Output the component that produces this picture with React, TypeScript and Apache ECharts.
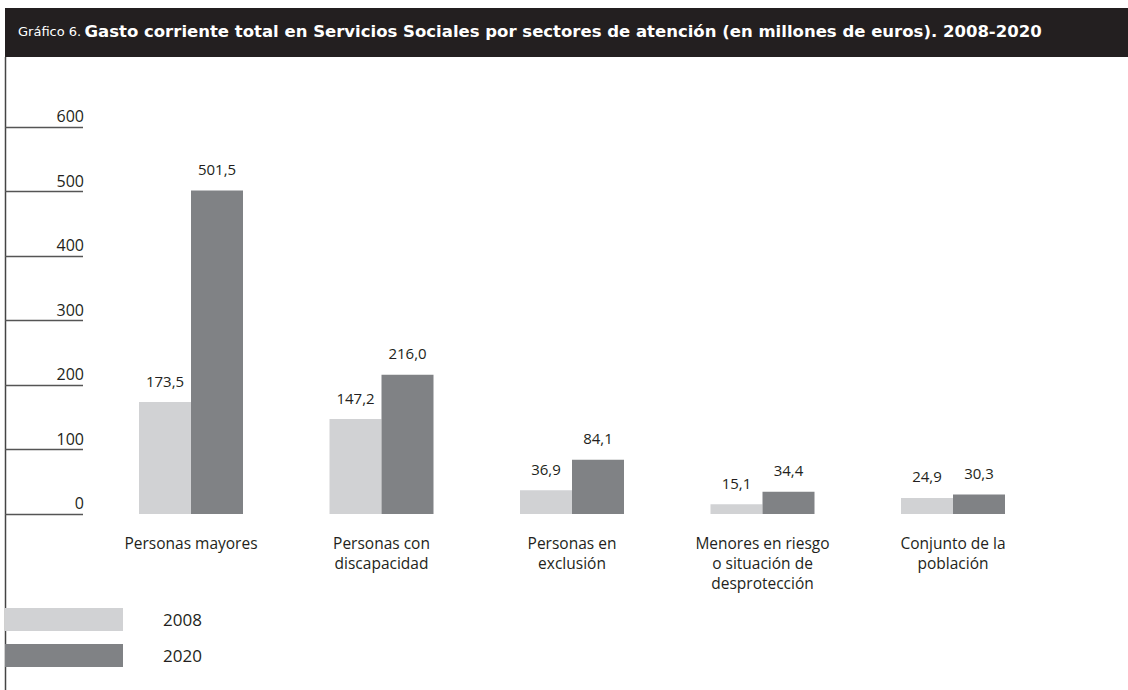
import React, { useEffect, useRef } from "react";
import * as echarts from "echarts";

const categories = [
  "Personas mayores",
  "Personas con\ndiscapacidad",
  "Personas en\nexclusión",
  "Menores en riesgo\no situación de\ndesprotección",
  "Conjunto de la\npoblación",
];
const values2008 = [173.5, 147.2, 36.9, 15.1, 24.9];
const values2020 = [501.5, 216.0, 84.1, 34.4, 30.3];
const seriesNames = ["2008", "2020"];
const yTicks = [0, 100, 200, 300, 400, 500, 600];

const LIGHT = "#d1d2d4";
const DARK = "#808285";
const INK = "#231f20";
const FONT = "'Open Sans', 'Noto Sans', sans-serif";
const TITLE_FONT = "'DejaVu Sans', sans-serif";

export default function App() {
  const ref = useRef<HTMLDivElement>(null);
  useEffect(() => {
    document.body.style.margin = "0";
    if (!ref.current) return;
    const chart = echarts.init(ref.current, null, { renderer: "svg" });
    const fmt = (v: number) => v.toFixed(1).replace(".", ",");
    const label = {
      show: true,
      position: "top",
      distance: 14,
      color: INK,
      fontFamily: FONT,
      fontSize: 15,
      formatter: (p: any) => fmt(p.value),
    };
    chart.setOption({
      animation: false,
      textStyle: { fontFamily: FONT },
      grid: { left: 95.75, right: 79.75, top: 127, bottom: 176, containLabel: false },
      legend: {
        orient: "vertical",
        left: 5,
        top: 608,
        padding: 0,
        itemWidth: 118,
        itemHeight: 23,
        itemGap: 13,
        icon: "rect",
        data: seriesNames,
        textStyle: { color: INK, fontSize: 17, fontFamily: FONT, padding: [0, 0, 0, 35] },
        selectedMode: false,
      },
      xAxis: {
        type: "category",
        data: categories,
        axisLine: { show: false },
        axisTick: { show: false },
        axisLabel: {
          color: INK,
          fontSize: 15.5,
          lineHeight: 20,
          fontFamily: FONT,
          margin: 19,
          interval: 0,
        },
      },
      yAxis: {
        type: "value",
        min: yTicks[0],
        max: yTicks[yTicks.length - 1],
        interval: 100,
        offset: 12.75,
        axisLine: { show: false },
        splitLine: { show: false },
        axisTick: { show: true, length: 78, lineStyle: { color: "#555", width: 1.3 } },
        axisLabel: {
          color: INK,
          fontSize: 16,
          fontFamily: FONT,
          margin: -1,
          align: "right",
          verticalAlign: "bottom",
          padding: [0, 0, 3, 0],
        },
      },
      series: [
        {
          name: seriesNames[0],
          type: "bar",
          data: values2008,
          barWidth: 52,
          barGap: "0%",
          itemStyle: { color: LIGHT },
          label,
        },
        {
          name: seriesNames[1],
          type: "bar",
          data: values2020,
          barWidth: 52,
          barGap: "0%",
          itemStyle: { color: DARK },
          label,
        },
      ],
      graphic: [
        {
          type: "rect",
          left: 5,
          top: 8,
          shape: { width: 1123, height: 49 },
          style: { fill: INK },
        },
        {
          type: "line",
          shape: { x1: 5.5, y1: 57, x2: 5.5, y2: 690 },
          style: { stroke: "#444", lineWidth: 1.5 },
        },
        {
          type: "text",
          left: 18,
          top: 23,
          style: {
            text: "{a|Gráfico 6.} {b|Gasto corriente total en Servicios Sociales por sectores de atención (en millones de euros). 2008-2020}",
            rich: {
              a: { fill: "#fff", fontSize: 13, fontFamily: TITLE_FONT, fontWeight: "normal" },
              b: { fill: "#fff", fontSize: 16.5, fontFamily: TITLE_FONT, fontWeight: "bold" },
            },
          },
        },
      ],
    });
    return () => chart.dispose();
  }, []);
  return <div ref={ref} style={{ width: 1128, height: 690 }} />;
}
